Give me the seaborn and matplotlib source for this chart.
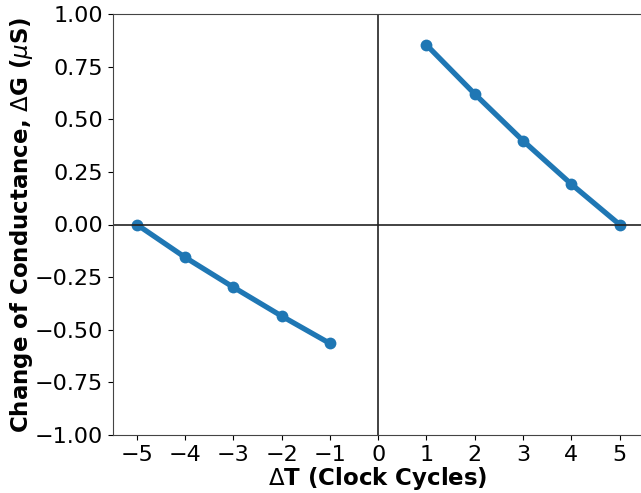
import numpy as np
import pandas as pd
import matplotlib
matplotlib.use('Agg')
import matplotlib.pyplot as plt
import seaborn as sns

# values
dt_neg = [-5, -4, -3, -2, -1]
dg_neg = [0.0, -0.156, -0.298, -0.435, -0.565]
dt_pos = [1, 2, 3, 4, 5]
dg_pos = [0.853, 0.62, 0.398, 0.192, 0.0]

df = pd.DataFrame({
    'dt': dt_neg + dt_pos,
    'dg': dg_neg + dg_pos,
    'side': ['neg'] * len(dt_neg) + ['pos'] * len(dt_pos),
})

fig = plt.figure(figsize=(6.41, 4.93), dpi=100)
ax = fig.add_axes([112.7 / 641, 58 / 493, 531 / 641, 421 / 493])

for side in ['neg', 'pos']:
    d = df[df['side'] == side]
    sns.lineplot(data=d, x='dt', y='dg', ax=ax, color='#1f77b4',
                 linewidth=3.8, marker='o', markersize=8.5, markeredgewidth=0)

ax.axhline(0, color='#222222', linewidth=1.2)
ax.axvline(0, color='#222222', linewidth=1.2)
for s in ax.spines.values():
    s.set_color('#444444')

ax.set_xlim(-5.5, 5.5)
ax.set_ylim(-1, 1)
ax.set_xticks(range(-5, 6))
ax.tick_params(labelsize=16)
ax.set_xlabel(r'$\Delta$T (Clock Cycles)', fontsize=16.5, fontweight='bold', labelpad=0)
ax.set_ylabel(r'Change of Conductance, $\Delta$G ($\mu$S)', fontsize=16.5, fontweight='bold', labelpad=0)

fig.savefig('out.png', dpi=100)
